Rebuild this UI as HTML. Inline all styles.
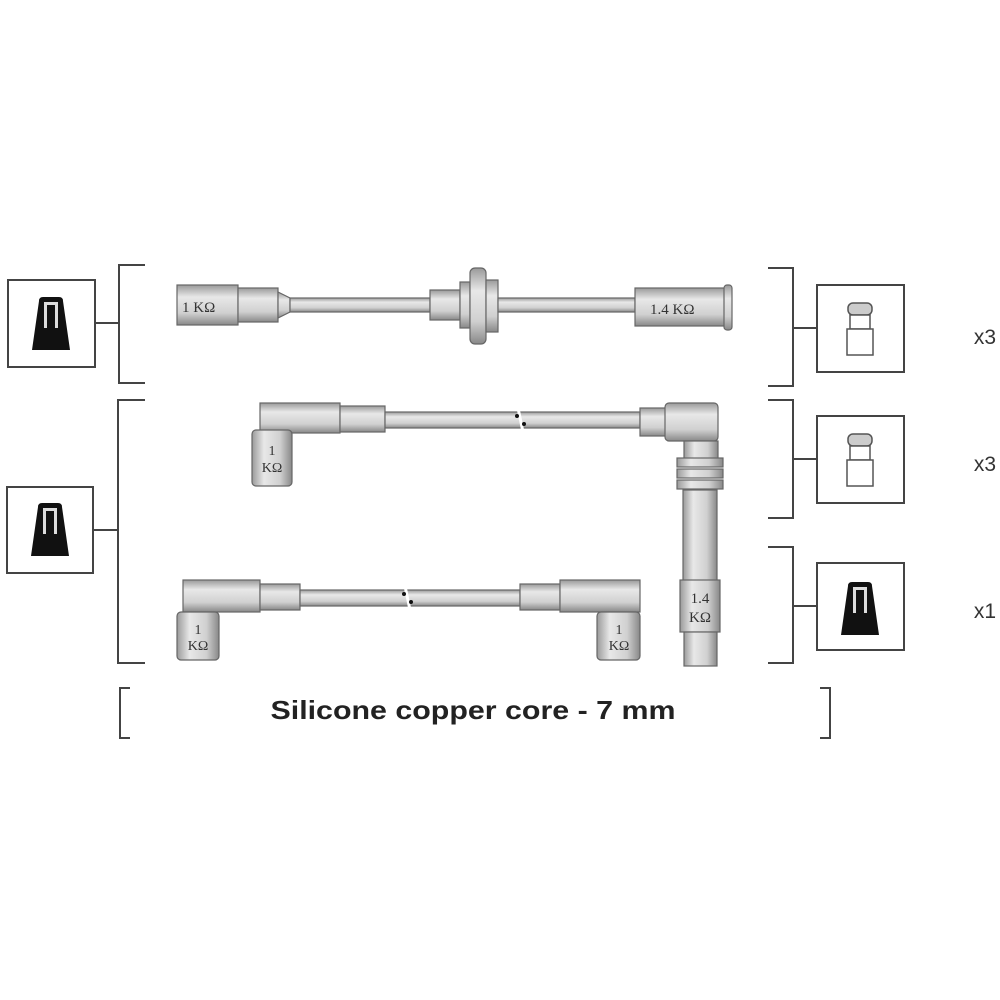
<!DOCTYPE html>
<html><head><meta charset="utf-8"><style>
html,body{margin:0;padding:0;background:#fff}
svg{display:block}
text{font-family:"Liberation Serif",serif;fill:#333}
text.s{font-family:"Liberation Sans",sans-serif}
</style></head><body>
<svg width="1000" height="1000" viewBox="0 0 1000 1000" xmlns="http://www.w3.org/2000/svg">
<defs>
<linearGradient id="gv" x1="0" y1="0" x2="0" y2="1">
<stop offset="0" stop-color="#9a9a9a"/><stop offset="0.3" stop-color="#e8e8e8"/><stop offset="0.7" stop-color="#d0d0d0"/><stop offset="1" stop-color="#888"/></linearGradient>
<linearGradient id="gh" x1="0" y1="0" x2="1" y2="0">
<stop offset="0" stop-color="#9a9a9a"/><stop offset="0.3" stop-color="#e8e8e8"/><stop offset="0.7" stop-color="#d0d0d0"/><stop offset="1" stop-color="#888"/></linearGradient>
<g id="boot">
<path d="M-12,-26 Q-12,-30 -8,-30 H8 Q12,-30 12,-26 L19,23 H-19 Z" fill="#111"/>
<path d="M-7,-25 h14 v26 h-3 v-23 h-8 v23 h-3 z" fill="#ddd"/>
</g>
<g id="plug">
<rect x="-12" y="-28" width="24" height="12" rx="5" fill="#ccc" stroke="#555" stroke-width="1.5"/>
<rect x="-10" y="-16" width="20" height="14" fill="#fff" stroke="#555" stroke-width="1.5"/>
<rect x="-13" y="-2" width="26" height="26" fill="#fff" stroke="#555" stroke-width="1.5"/>
</g>
</defs>
<g stroke="#444" stroke-width="2" fill="none">
<rect x="8" y="280" width="87" height="87"/>
<rect x="7" y="487" width="86" height="86"/>
<path d="M145,265 H119 V383 H145 M95,323 H119"/>
<path d="M145,400 H118 V663 H145 M93,530 H118"/>
<rect x="817" y="285" width="87" height="87"/>
<rect x="817" y="416" width="87" height="87"/>
<rect x="817" y="563" width="87" height="87"/>
<path d="M768,268 H793 V386 H768 M793,328 H817"/>
<path d="M768,400 H793 V518 H768 M793,459 H817"/>
<path d="M768,547 H793 V663 H768 M793,606 H817"/>
<path d="M130,688 H120 V738 H130"/>
<path d="M820,688 H830 V738 H820"/>
</g>
<use href="#boot" x="51" y="327"/>
<use href="#boot" x="50" y="533"/>
<use href="#boot" x="860" y="612"/>
<use href="#plug" x="860" y="331"/>
<use href="#plug" x="860" y="462"/>
<g stroke="#666" stroke-width="1.2">
<rect x="177" y="285" width="61" height="40" fill="url(#gv)"/>
<rect x="238" y="288" width="40" height="34" fill="url(#gv)"/>
<path d="M278,292 L290,298 V312 L278,318 Z" fill="url(#gv)"/>
<rect x="290" y="298" width="140" height="14" fill="url(#gv)"/>
<rect x="430" y="290" width="30" height="30" fill="url(#gv)"/>
<rect x="460" y="282" width="10" height="46" fill="url(#gv)"/>
<rect x="470" y="268" width="16" height="76" rx="5" fill="url(#gv)"/>
<rect x="486" y="280" width="12" height="52" fill="url(#gv)"/>
<rect x="498" y="298" width="137" height="14" fill="url(#gv)"/>
<rect x="635" y="288" width="90" height="38" fill="url(#gv)"/>
<rect x="724" y="285" width="8" height="45" rx="3" fill="url(#gv)"/>
<rect x="260" y="403" width="80" height="30" fill="url(#gv)"/>
<rect x="340" y="406" width="45" height="26" fill="url(#gv)"/>
<rect x="385" y="412" width="255" height="16" fill="url(#gv)"/>
<rect x="252" y="430" width="40" height="56" rx="4" fill="url(#gh)"/>
<rect x="640" y="408" width="30" height="28" fill="url(#gv)"/>
<rect x="665" y="403" width="53" height="38" rx="4" fill="url(#gv)"/>
<rect x="684" y="441" width="34" height="20" fill="url(#gh)"/>
<rect x="677" y="458" width="46" height="9" fill="url(#gh)"/>
<rect x="677" y="469" width="46" height="9" fill="url(#gh)"/>
<rect x="677" y="480" width="46" height="9" fill="url(#gh)"/>
<rect x="683" y="490" width="34" height="95" fill="url(#gh)"/>
<rect x="680" y="580" width="40" height="52" fill="url(#gh)"/>
<rect x="684" y="632" width="33" height="34" fill="url(#gh)"/>
<rect x="183" y="580" width="77" height="32" fill="url(#gv)"/>
<rect x="260" y="584" width="40" height="26" fill="url(#gv)"/>
<rect x="300" y="590" width="220" height="16" fill="url(#gv)"/>
<rect x="520" y="584" width="40" height="26" fill="url(#gv)"/>
<rect x="560" y="580" width="80" height="32" fill="url(#gv)"/>
<rect x="177" y="612" width="42" height="48" rx="4" fill="url(#gh)"/>
<rect x="597" y="612" width="43" height="48" rx="4" fill="url(#gh)"/>
</g>
<g stroke="#fff" stroke-width="3">
<line x1="518" y1="408" x2="523" y2="432"/>
<line x1="405" y1="586" x2="410" y2="610"/>
</g>
<g fill="#111">
<circle cx="517" cy="416" r="2"/><circle cx="524" cy="424" r="2"/>
<circle cx="404" cy="594" r="2"/><circle cx="411" cy="602" r="2"/>
</g>
<text x="182" y="312" font-size="15">1 KΩ</text>
<text x="650" y="314" font-size="15">1.4 KΩ</text>
<text x="272" y="455" font-size="14" text-anchor="middle">1</text>
<text x="272" y="472" font-size="14" text-anchor="middle">KΩ</text>
<text x="198" y="634" font-size="14" text-anchor="middle">1</text>
<text x="198" y="650" font-size="14" text-anchor="middle">KΩ</text>
<text x="619" y="634" font-size="14" text-anchor="middle">1</text>
<text x="619" y="650" font-size="14" text-anchor="middle">KΩ</text>
<text x="700" y="603" font-size="15" text-anchor="middle">1.4</text>
<text x="700" y="622" font-size="15" text-anchor="middle">KΩ</text>
<text class="s" x="985" y="344" font-size="21" text-anchor="middle">x3</text>
<text class="s" x="985" y="471" font-size="21" text-anchor="middle">x3</text>
<text class="s" x="985" y="618" font-size="21" text-anchor="middle">x1</text>
<text class="s" x="473" y="719" font-size="26" font-weight="bold" text-anchor="middle" style="fill:#222" textLength="405" lengthAdjust="spacingAndGlyphs">Silicone copper core - 7 mm</text>
</svg>
</body></html>
